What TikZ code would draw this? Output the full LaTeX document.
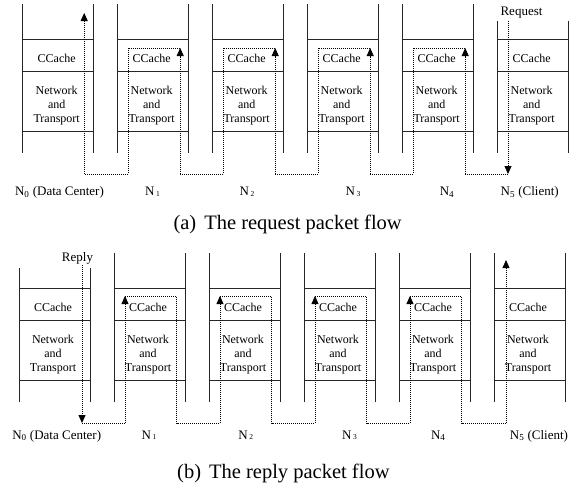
\documentclass[tikz,border=0pt]{standalone}
\usepackage{fontspec}
\setmainfont{Liberation Serif}
\usetikzlibrary{arrows.meta}
\newcommand{\drawstack}[4]{% #1 name, #2 left x, #3 y0, #4 top of verticals
  \draw[boxline] (#2,#4) -- (#2,#3+149);
  \draw[boxline] (#2+71,#4) -- (#2+71,#3+149);
  \draw[boxline] (#2,#3+35.5) -- (#2+71,#3+35.5);
  \draw[boxline] (#2,#3+67.5) -- (#2+71,#3+67.5);
  \draw[boxline] (#2,#3+127.5) -- (#2+71,#3+127.5);
  \node[boxtext, anchor=base] (#1cc) at (#2+34,#3+58) {CCache};
  \node[boxtext, anchor=center] (#1nt) at (#2+34,#3+101.2) {Network\\and\\Transport};
}
\newcommand{\smallsub}[1]{\kern1.5pt\raisebox{-0.8pt}{\fontsize{7.5}{8}\selectfont #1}}
\begin{document}
\begin{tikzpicture}[x=1pt,y=-1pt,
  boxline/.style={line width=0.95pt, black!85},
  flow/.style={line width=0.8pt, dash pattern=on 1pt off 1pt},
  flowarrow/.style={flow, -{Triangle[width=7pt,length=8pt]}},
  boxtext/.style={font=\fontsize{12}{14}\selectfont, align=center, inner sep=0pt},
  lbl/.style={font=\fontsize{13}{15}\selectfont, inner sep=0pt, anchor=base},
  captext/.style={font=\fontsize{20.5}{24}\selectfont, inner sep=0pt, anchor=base west}]
\useasboundingbox (0,0) rectangle (579,488);

% ---------- (a) request ----------
\drawstack{a0}{22.7}{4}{4}
\drawstack{a1}{117.7}{4}{4}
\drawstack{a2}{212.7}{4}{4}
\drawstack{a3}{307.7}{4}{4}
\drawstack{a4}{402.7}{4}{4}
\drawstack{a5}{497.7}{4}{20.5}

\node[lbl] (req) at (521.5,15) {Request};

\coordinate (rs) at (508,20.5);
\coordinate (r5b) at (508,174);
\foreach \i in {1,...,4}{
  \pgfmathsetmacro{\xl}{22.7+95*\i}
  \coordinate (r\i br) at (\xl+62.5,174);
  \coordinate (r\i tr) at (\xl+62.5,48);
  \coordinate (r\i tl) at (\xl+10.5,48);
  \coordinate (r\i bl) at (\xl+10.5,174);
}
\coordinate (r0b) at (84.2,174);
\coordinate (r0t) at (84.2,13);

\draw[flowarrow] (rs) -- (r5b);
\draw[flow] (r5b) -- (r4br);
\draw[flowarrow] (r4br) -- (r4tr);
\draw[flow] (r4tr) -- (r4tl) -- (r4bl) -- (r3br);
\draw[flowarrow] (r3br) -- (r3tr);
\draw[flow] (r3tr) -- (r3tl) -- (r3bl) -- (r2br);
\draw[flowarrow] (r2br) -- (r2tr);
\draw[flow] (r2tr) -- (r2tl) -- (r2bl) -- (r1br);
\draw[flowarrow] (r1br) -- (r1tr);
\draw[flow] (r1tr) -- (r1tl) -- (r1bl) -- (r0b);
\draw[flowarrow] (r0b) -- (r0t);

\node[lbl] (la0) at (59.5,195.3) {N\textsubscript{0} (Data Center)};
\node[lbl] (la1) at (152.5,195.3) {N\smallsub{1}};
\node[lbl] (la2) at (247,195.3) {N\smallsub{2}};
\node[lbl] (la3) at (353,195.3) {N\smallsub{3}};
\node[lbl] (la4) at (447,195.3) {N\textsubscript{4}};
\node[lbl] (la5) at (529.7,195.3) {N\textsubscript{5} (Client)};

\node[captext] (capa) at (173.3,229) {(a)\hspace{8pt}The request packet flow};

% ---------- (b) reply ----------
\drawstack{b0}{19}{253}{268}
\drawstack{b1}{114}{253}{253}
\drawstack{b2}{209}{253}{253}
\drawstack{b3}{304}{253}{253}
\drawstack{b4}{399}{253}{253}
\drawstack{b5}{494}{253}{253}

\node[lbl] (rep) at (77.5,261.5) {Reply};

\coordinate (ps) at (82,265);
\coordinate (p0b) at (82,423);
\foreach \i in {1,...,4}{
  \pgfmathsetmacro{\xl}{19+95*\i}
  \coordinate (p\i bl) at (\xl+11,423);
  \coordinate (p\i tl) at (\xl+11,296);
  \coordinate (p\i tr) at (\xl+62.5,296);
  \coordinate (p\i br) at (\xl+62.5,423);
}
\coordinate (p5b) at (506,423);
\coordinate (p5t) at (506,260);

\draw[flowarrow] (ps) -- (p0b);
\draw[flow] (p0b) -- (p1bl);
\draw[flowarrow] (p1bl) -- (p1tl);
\draw[flow] (p1tl) -- (p1tr) -- (p1br) -- (p2bl);
\draw[flowarrow] (p2bl) -- (p2tl);
\draw[flow] (p2tl) -- (p2tr) -- (p2br) -- (p3bl);
\draw[flowarrow] (p3bl) -- (p3tl);
\draw[flow] (p3tl) -- (p3tr) -- (p3br) -- (p4bl);
\draw[flowarrow] (p4bl) -- (p4tl);
\draw[flow] (p4tl) -- (p4tr) -- (p4br) -- (p5b);
\draw[flowarrow] (p5b) -- (p5t);

\node[lbl] (lb0) at (56.7,439) {N\textsubscript{0} (Data Center)};
\node[lbl] (lb1) at (149,439) {N\smallsub{1}};
\node[lbl] (lb2) at (245.8,439) {N\smallsub{2}};
\node[lbl] (lb3) at (349.5,439) {N\smallsub{3}};
\node[lbl] (lb4) at (438.3,439) {N\textsubscript{4}};
\node[lbl] (lb5) at (539,439) {N\textsubscript{5} (Client)};

\node[captext] (capb) at (177,478) {(b)\hspace{8pt}The reply packet flow};
\end{tikzpicture}
\end{document}
